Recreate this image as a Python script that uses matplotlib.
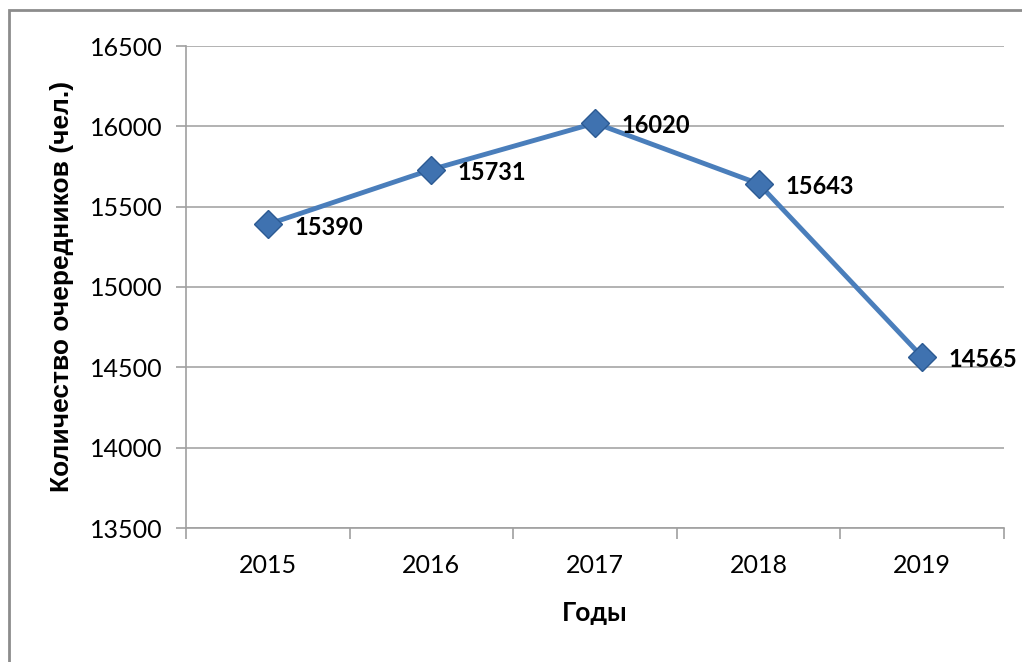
import matplotlib.pyplot as plt
from matplotlib.patches import Rectangle

# data
years = ["2015", "2016", "2017", "2018", "2019"]
counts = [15390, 15731, 16020, 15643, 14565]
y_ticks = [13500, 14000, 14500, 15000, 15500, 16000, 16500]

W, H = 1022, 662
fig = plt.figure(figsize=(W / 100, H / 100), dpi=100)
ax = fig.add_axes([186 / W, 1 - 528 / H, (1004 - 186) / W, (528 - 46) / H])

# outer frame of the chart object (cut off on right/bottom)
fig.patches.append(Rectangle((9 / W, -0.1), 1.2, 1 - 10 / H + 0.1,
                             transform=fig.transFigure, fill=False,
                             edgecolor="#8c8c8c", linewidth=2))

xs = list(range(len(years)))
ax.plot(xs, counts, color="#4a7ebb", linewidth=3.5, zorder=3,
        marker="D", markersize=14, markerfacecolor="#3f72b0",
        markeredgecolor="#2c5a93", markeredgewidth=1)

for x, v in zip(xs, counts):
    ax.annotate(str(v), (x, v), xytext=(19, -2), textcoords="offset points",
                ha="left", va="center", fontsize=17, fontweight="bold",
                family="Lato", color="black")

ax.set_xlim(-0.5, len(years) - 0.5)
ax.set_ylim(13500, 16500)
ax.set_yticks(y_ticks)
ax.set_yticklabels([str(t) for t in y_ticks], family="Lato", fontsize=18)
ax.set_xticks(xs)
ax.set_xticklabels(years, family="Lato", fontsize=18)
ax.set_xticks([x - 0.5 for x in range(len(years) + 1)], minor=True)
ax.tick_params(axis="x", which="major", length=0, pad=19)
ax.tick_params(axis="x", which="minor", length=8, width=1.2, color="#a0a0a0")
ax.tick_params(axis="y", length=7, width=1.2, color="#a0a0a0", pad=10)

ax.grid(axis="y", color="#a6a6a6", linewidth=1.2)
ax.set_axisbelow(True)
for s in ["top", "right"]:
    ax.spines[s].set_visible(False)
for s in ["left", "bottom"]:
    ax.spines[s].set_color("#a0a0a0")
    ax.spines[s].set_linewidth(1.2)

fig.text(62 / W, 1 - 286 / H, "Количество очередников (чел.)", rotation=90,
         ha="center", va="center", fontsize=19, fontweight="bold",
         family="Liberation Sans")
fig.text(595 / W, 1 - 613 / H, "Годы", ha="center", va="center",
         fontsize=19, fontweight="bold", family="Lato")

fig.savefig("out.png", dpi=100)
